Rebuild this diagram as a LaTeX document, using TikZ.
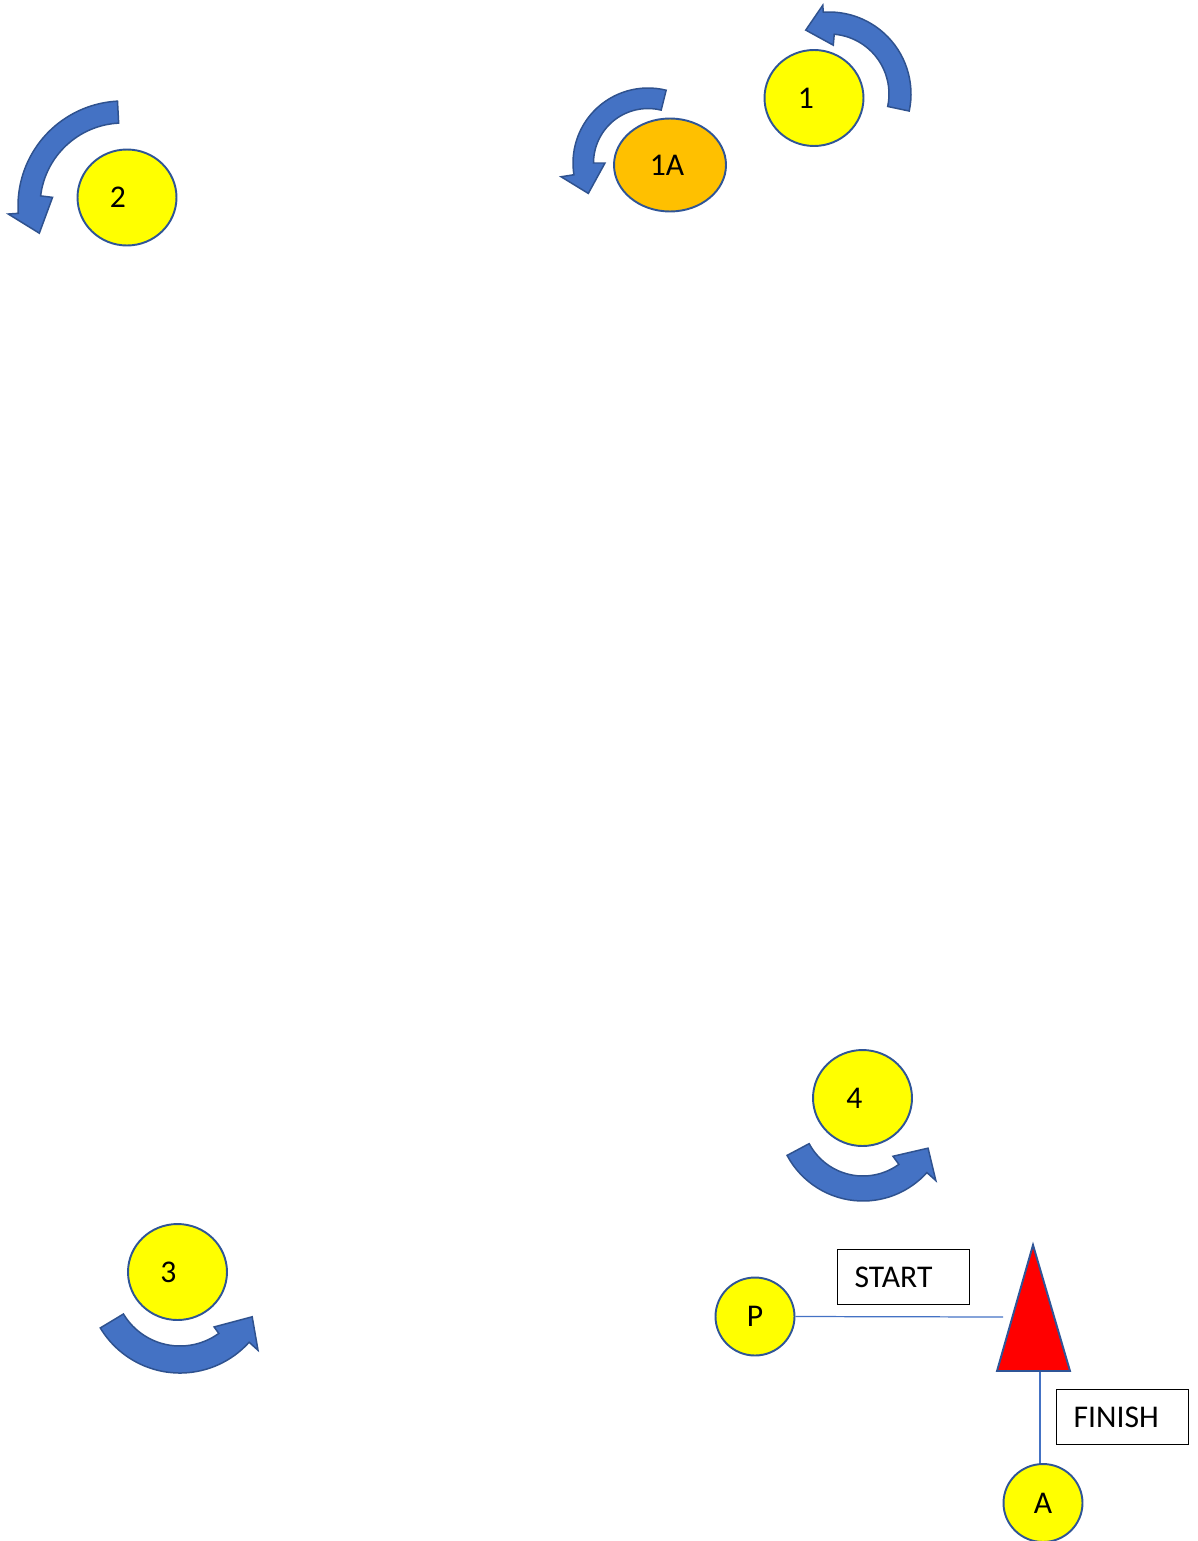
\documentclass[tikz,border=0pt]{standalone}
\usepackage{fontspec}
\setmainfont{Carlito}
\usepackage{xcolor}
\usepackage{tikz}
\usetikzlibrary{positioning, shapes.geometric, calc}

\definecolor{buoyyellow}{HTML}{FFFF00}
\definecolor{buoyorange}{HTML}{FFC000}
\definecolor{buoyedge}{HTML}{2F5597}
\definecolor{turnblue}{HTML}{4472C4}
\definecolor{turnedge}{HTML}{2F528F}
\definecolor{pinred}{HTML}{FF0000}

\begin{document}
\begin{tikzpicture}[
    x=0.02cm, y=0.02cm,
    buoy/.style={ellipse, draw=buoyedge, line width=1.1pt, fill=buoyyellow, minimum width=1.98cm, minimum height=1.92cm, inner sep=0pt, font=\fontsize{18}{22}\selectfont},
    smallbuoy/.style={buoy, minimum width=1.58cm, minimum height=1.56cm},
    buoylabel/.style={font=\fontsize{18}{22}\selectfont, inner sep=0pt},
    flagbox/.style={rectangle, draw=black, line width=0.75pt, anchor=north west, minimum width=2.64cm, minimum height=1.1cm, inner xsep=0.34cm, text width=1.96cm, align=left, font=\fontsize{18}{22}\selectfont},
    turnarrow/.style={draw=turnedge, fill=turnblue, line width=0.85pt, line join=miter},
    pin/.style={draw=buoyedge, fill=pinred, line width=1.1pt, line join=miter},
    course/.style={draw=turnblue, line width=0.7pt},
]
\useasboundingbox (0,0) rectangle (1197,-1541);

% Marks to round
\node[buoy, label={[buoylabel, xshift=-0.16cm]center:1}] (b1) at (814,-98) {};
\node[buoy, fill=buoyorange, minimum width=2.24cm, minimum height=1.86cm, label={[buoylabel, xshift=-0.06cm]center:1A}] (b1A) at (670,-165) {};
\node[buoy, label={[buoylabel, xshift=-0.18cm]center:2}] (b2) at (127,-197.5) {};
\node[buoy, label={[buoylabel, xshift=-0.18cm]center:3}] (b3) at (177.5,-1272) {};
\node[buoy, label={[buoylabel, xshift=-0.16cm]center:4}] (b4) at (862.5,-1098) {};

% Rounding arrows (counter-clockwise)
\foreach \cx/\cy/\ri/\ro/\s/\eo/\bo/\ei/\bi/\ta/\tr in {
    829/-94/60/82/-12/94/89/85/49/110/68,
    648/-163/54.5/75/76/189/88/180/43/207/67,
    123/-206/83/105/93/184/115/173/71/198/88,
    180/-1280/66/93/211/318/105/306/58/333/81,
    863/-1115/61/86/208/318/98/306/51/333/73} {
    \draw[turnarrow] ($(\cx,\cy)+(\s:\ro)$) arc[start angle=\s, end angle=\eo, radius=\ro]
        -- ($(\cx,\cy)+(\eo:\bo)$) -- ($(\cx,\cy)+(\ta:\tr)$) -- ($(\cx,\cy)+(\ei:\bi)$)
        -- ($(\cx,\cy)+(\ei:\ri)$) arc[start angle=\ei, end angle=\s, radius=\ri] -- cycle;
}

% Start and finish line
\node[smallbuoy] (P) at (755,-1316.5) {P};
\node[smallbuoy] (A) at (1043,-1503) {A};
\coordinate (apex) at (1033,-1245);
\coordinate (baseL) at (997,-1371);
\coordinate (baseR) at (1070,-1371);
\coordinate (startend) at (1003,-1317);
\coordinate (finishtop) at (1040,-1368);
\draw[course] (P.east) -- (startend);
\draw[course] (finishtop) -- (finishtop |- A.north);
\draw[pin] (apex) -- (baseR) -- (baseL) -- cycle;

\node[flagbox] (start) at (837,-1249) {START};
\node[flagbox] (finish) at (1056,-1389) {FINISH};

\end{tikzpicture}
\end{document}
